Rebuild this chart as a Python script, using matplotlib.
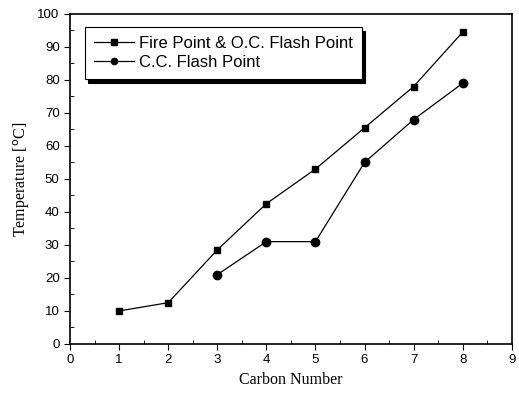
import matplotlib
matplotlib.use("Agg")
import matplotlib.pyplot as plt
from matplotlib.ticker import MultipleLocator

# data
carbon_fire = [1, 2, 3, 4, 5, 6, 7, 8]
fire_point = [10, 12.5, 28.5, 42.5, 53, 65.5, 78, 94.5]
carbon_cc = [3, 4, 5, 6, 7, 8]
cc_flash = [21, 31, 31, 55, 68, 79]

fig = plt.figure(figsize=(5.19, 3.99), dpi=100)
ax = fig.add_axes([0.135, 0.138, 0.851, 0.827])

ax.plot(carbon_fire, fire_point, color="black", lw=0.9, marker="s", ms=5,
        label="Fire Point & O.C. Flash Point")
ax.plot(carbon_cc, cc_flash, color="black", lw=0.9, marker="o", ms=6,
        label="C.C. Flash Point")

ax.set_xlim(0, 9)
ax.set_ylim(0, 100)
ax.xaxis.set_major_locator(MultipleLocator(1))
ax.xaxis.set_minor_locator(MultipleLocator(0.5))
ax.yaxis.set_major_locator(MultipleLocator(10))
ax.yaxis.set_minor_locator(MultipleLocator(5))
ax.tick_params(which="major", direction="out", length=4, labelsize=9.5)
ax.tick_params(which="minor", direction="in", length=3)
for lab in ax.get_xticklabels() + ax.get_yticklabels():
    lab.set_fontfamily("Liberation Sans")
for s in ax.spines.values():
    s.set_linewidth(1.2)

ax.set_xlabel("Carbon Number", family="Liberation Serif", fontsize=11.5)
ax.set_ylabel("Temperature [$^{\\rm o}$C]", family="Liberation Serif", fontsize=11.5)

leg = ax.legend(loc="upper left", bbox_to_anchor=(0.034, 0.96), frameon=True,
                fancybox=False, shadow={"color": "black", "alpha": 1, "ox": 2, "oy": -3},
                prop={"family": "Liberation Sans", "size": 12},
                handlelength=2.4, borderpad=0.55, labelspacing=0.2,
                handletextpad=0.3, borderaxespad=0, markerscale=0.75,
                framealpha=1)
leg.get_frame().set_edgecolor("black")
leg.get_frame().set_linewidth(0.8)

fig.savefig("out.png", dpi=100)
